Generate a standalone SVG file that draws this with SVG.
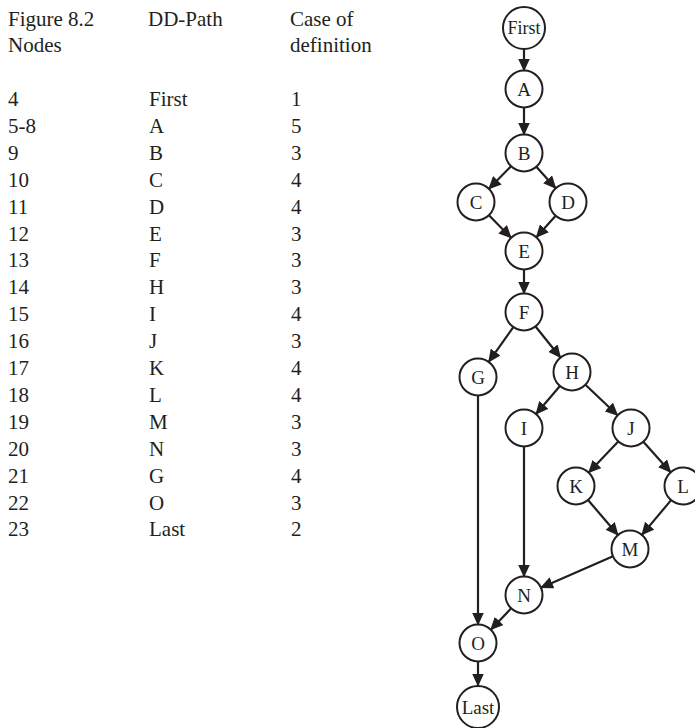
<svg xmlns="http://www.w3.org/2000/svg" width="695" height="728" viewBox="0 0 695 728">
<style>
  .t { font-family: "Liberation Serif", "Times New Roman", serif; font-size: 21px; fill: #231f20; }
  .n circle { fill: #ffffff; stroke: #231f20; stroke-width: 2; }
  .n text { font-family: "Liberation Serif", "Times New Roman", serif; font-size: 19px; fill: #231f20; text-anchor: middle; }
  .e line { stroke: #231f20; stroke-width: 2.2; marker-end: url(#arr); }
</style>
<defs>
  <marker id="arr" viewBox="0 0 13 12" refX="12" refY="6" markerWidth="13" markerHeight="12" markerUnits="userSpaceOnUse" orient="auto">
    <path d="M0,0 L13,6 L0,12 z" fill="#231f20"/>
  </marker>
</defs>
<rect width="695" height="728" fill="#ffffff"/>
<g id="table" class="t">
  <text x="8" y="26">Figure 8.2</text>
  <text x="8" y="52">Nodes</text>
  <text x="148" y="26">DD-Path</text>
  <text x="290" y="26">Case of</text>
  <text x="290" y="52">definition</text>
  <text x="8" y="106">4</text><text x="149" y="106">First</text><text x="291" y="106">1</text>
  <text x="8" y="132.9">5-8</text><text x="149" y="132.9">A</text><text x="291" y="132.9">5</text>
  <text x="8" y="159.8">9</text><text x="149" y="159.8">B</text><text x="291" y="159.8">3</text>
  <text x="8" y="186.7">10</text><text x="149" y="186.7">C</text><text x="291" y="186.7">4</text>
  <text x="8" y="213.6">11</text><text x="149" y="213.6">D</text><text x="291" y="213.6">4</text>
  <text x="8" y="240.5">12</text><text x="149" y="240.5">E</text><text x="291" y="240.5">3</text>
  <text x="8" y="267.4">13</text><text x="149" y="267.4">F</text><text x="291" y="267.4">3</text>
  <text x="8" y="294.3">14</text><text x="149" y="294.3">H</text><text x="291" y="294.3">3</text>
  <text x="8" y="321.2">15</text><text x="149" y="321.2">I</text><text x="291" y="321.2">4</text>
  <text x="8" y="348.1">16</text><text x="149" y="348.1">J</text><text x="291" y="348.1">3</text>
  <text x="8" y="375">17</text><text x="149" y="375">K</text><text x="291" y="375">4</text>
  <text x="8" y="401.9">18</text><text x="149" y="401.9">L</text><text x="291" y="401.9">4</text>
  <text x="8" y="428.8">19</text><text x="149" y="428.8">M</text><text x="291" y="428.8">3</text>
  <text x="8" y="455.7">20</text><text x="149" y="455.7">N</text><text x="291" y="455.7">3</text>
  <text x="8" y="482.6">21</text><text x="149" y="482.6">G</text><text x="291" y="482.6">4</text>
  <text x="8" y="509.5">22</text><text x="149" y="509.5">O</text><text x="291" y="509.5">3</text>
  <text x="8" y="536.4">23</text><text x="149" y="536.4">Last</text><text x="291" y="536.4">2</text>
</g>
<g id="connectors" class="e">
  <line x1="524" y1="49" x2="524" y2="70.5"/>
  <line x1="524" y1="107.5" x2="524" y2="134.5"/>
  <line x1="511.05" y1="166.2" x2="488.95" y2="188.8"/>
  <line x1="536.35" y1="166.76" x2="555.65" y2="188.24"/>
  <line x1="488.95" y1="215.2" x2="511.05" y2="237.8"/>
  <line x1="555.65" y1="215.76" x2="536.35" y2="237.24"/>
  <line x1="524" y1="269.5" x2="524" y2="293.5"/>
  <line x1="513.31" y1="327.11" x2="488.69" y2="361.89"/>
  <line x1="535.56" y1="326.45" x2="560.44" y2="357.55"/>
  <line x1="559.96" y1="386.04" x2="536.04" y2="413.96"/>
  <line x1="585.42" y1="384.74" x2="617.58" y2="415.26"/>
  <line x1="618.27" y1="441.43" x2="588.73" y2="472.57"/>
  <line x1="643.35" y1="441.77" x2="670.65" y2="472.23"/>
  <line x1="588.04" y1="500.04" x2="617.96" y2="534.96"/>
  <line x1="671.09" y1="500.16" x2="641.91" y2="534.84"/>
  <line x1="524" y1="446.5" x2="524" y2="576.5"/>
  <line x1="613.03" y1="556.36" x2="540.97" y2="587.64"/>
  <line x1="478" y1="395.5" x2="478" y2="624.5"/>
  <line x1="511.2" y1="608.36" x2="490.8" y2="629.64"/>
  <line x1="478" y1="661.5" x2="478" y2="685.5"/>
</g>
<g id="node-First" class="n"><circle cx="524" cy="28" r="21"/><text x="524" y="34" textLength="33" lengthAdjust="spacingAndGlyphs">First</text></g>
<g id="node-A" class="n"><circle cx="524" cy="89" r="18.5"/><text x="524" y="95.5">A</text></g>
<g id="node-B" class="n"><circle cx="524" cy="153" r="18.5"/><text x="524" y="159.5">B</text></g>
<g id="node-C" class="n"><circle cx="476" cy="202" r="18.5"/><text x="476" y="208.5">C</text></g>
<g id="node-D" class="n"><circle cx="568" cy="202" r="18.5"/><text x="568" y="208.5">D</text></g>
<g id="node-E" class="n"><circle cx="524" cy="251" r="18.5"/><text x="524" y="257.5">E</text></g>
<g id="node-F" class="n"><circle cx="524" cy="312" r="18.5"/><text x="524" y="318.5">F</text></g>
<g id="node-G" class="n"><circle cx="478" cy="377" r="18.5"/><text x="478" y="383.5">G</text></g>
<g id="node-H" class="n"><circle cx="572" cy="372" r="18.5"/><text x="572" y="378.5">H</text></g>
<g id="node-I" class="n"><circle cx="524" cy="428" r="18.5"/><text x="524" y="434.5">I</text></g>
<g id="node-J" class="n"><circle cx="631" cy="428" r="18.5"/><text x="631" y="434.5">J</text></g>
<g id="node-K" class="n"><circle cx="576" cy="486" r="18.5"/><text x="576" y="492.5">K</text></g>
<g id="node-L" class="n"><circle cx="683" cy="486" r="18.5"/><text x="683" y="492.5">L</text></g>
<g id="node-M" class="n"><circle cx="630" cy="549" r="18.5"/><text x="630" y="555.5">M</text></g>
<g id="node-N" class="n"><circle cx="524" cy="595" r="18.5"/><text x="524" y="601.5">N</text></g>
<g id="node-O" class="n"><circle cx="478" cy="643" r="18.5"/><text x="478" y="649.5">O</text></g>
<g id="node-Last" class="n"><circle cx="478" cy="707" r="21"/><text x="478" y="713.5">Last</text></g>
</svg>
